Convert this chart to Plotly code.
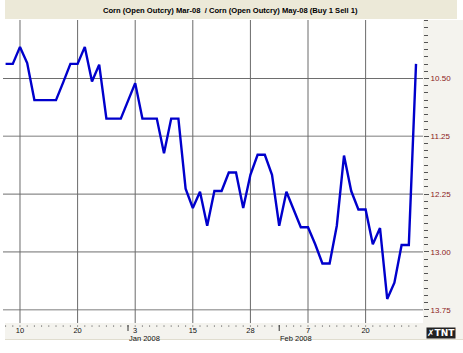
import plotly.graph_objects as go
import pandas as pd

# ---- data ----
holidays = ["2007-12-25", "2008-01-01", "2008-01-21", "2008-02-18"]
dates = [d.strftime("%Y-%m-%d") for d in
         pd.bdate_range("2007-12-06", "2008-02-29", freq="C", holidays=holidays)]

spread = [10.31, 10.31, 10.09, 10.30, 10.78, 10.78, 10.78, 10.78, 10.55, 10.31,
          10.31, 10.09, 10.54, 10.32, 11.02, 11.02, 11.02, 10.79, 10.56, 11.02,
          11.02, 11.02, 11.47, 11.02, 11.02, 11.93, 12.18, 11.97, 12.41, 11.96,
          11.96, 11.72, 11.72, 12.18, 11.75, 11.49, 11.49, 11.75, 12.41, 11.97,
          12.20, 12.43, 12.43, 12.65, 12.90, 12.90, 12.41, 11.50, 11.96, 12.20,
          12.20, 12.65, 12.44, 13.36, 13.15, 12.66, 12.66, 10.31]

x_tick_dates = ["2007-12-10", "2007-12-20", "2008-01-03", "2008-01-15",
                "2008-01-28", "2008-02-07", "2008-02-20"]
x_tick_text = ["10", "20", "3", "15", "28", "7", "20"]
month_starts = ["2008-01-02", "2008-02-01"]
month_labels = ["Jan 2008", "Feb 2008"]

y_tick_vals = [10.50, 11.25, 12.00, 12.75, 13.50]
y_tick_text = ["10.50", "11.25", "12.25", "13.00", "13.75"]
y_grid_light = [False, True, False, False, True]

title_text = "Corn (Open Outcry) Mar-08  / Corn (Open Outcry) May-08 (Buy 1 Sell 1)"

# trading-day positions on the axis
pos = list(range(len(dates)))
x_tick_pos = [dates.index(d) for d in x_tick_dates]

# ---- figure ----
W, H = 463, 353
L, R, T, B = 3, 40, 20, 30
pw, ph = W - L - R, H - T - B

def px(x):
    return (x - L) / pw

def py(y):
    return (H - B - y) / ph

fig = go.Figure()
fig.add_trace(go.Scatter(x=pos, y=spread, mode="lines", customdata=dates,
                         line=dict(color="#0000CC", width=2.4),
                         hovertemplate="%{customdata}: %{y}<extra></extra>",
                         showlegend=False))

shapes = []
# title bar
shapes.append(dict(type="rect", xref="paper", yref="paper",
                   x0=px(5), x1=px(457), y0=py(19), y1=py(0),
                   fillcolor="#ECE9D8", line=dict(width=0), layer="below"))
# right axis area
shapes.append(dict(type="rect", xref="paper", yref="paper",
                   x0=px(423), x1=px(463), y0=py(323), y1=py(20),
                   fillcolor="#F4F3EE", line=dict(width=0), layer="below"))
# bottom axis area
shapes.append(dict(type="rect", xref="paper", yref="paper",
                   x0=px(5), x1=px(463), y0=py(339), y1=py(323),
                   fillcolor="#F4F3EE", line=dict(width=0), layer="below"))
shapes.append(dict(type="line", xref="paper", yref="paper",
                   x0=px(5), x1=px(463), y0=py(339.5), y1=py(339.5),
                   line=dict(color="#E0DDCF", width=1)))
# horizontal grid lines
for v, light in zip(y_tick_vals, y_grid_light):
    shapes.append(dict(type="line", xref="paper", yref="y",
                       x0=0, x1=1, y0=v, y1=v, layer="below",
                       line=dict(color="#A8A8A8" if light else "#6E6E6E",
                                 width=1.6 if light else 1)))
# vertical grid lines at labelled days
for p in x_tick_pos:
    shapes.append(dict(type="line", xref="x", yref="paper",
                       x0=p, x1=p, y0=0, y1=1, layer="below",
                       line=dict(color="#6A6A6A", width=1)))
# daily ticks on the time axis
for p in pos:
    shapes.append(dict(type="line", xref="x", yref="paper",
                       x0=p, x1=p, y0=py(325.5), y1=py(326.6),
                       line=dict(color="#555555", width=1)))
# month boundary ticks
for m in month_starts:
    idx = dates.index(m)
    shapes.append(dict(type="line", xref="x", yref="paper",
                       x0=idx, x1=idx, y0=py(331), y1=py(325),
                       line=dict(color="#333333", width=1)))

annotations = [dict(text=title_text, xref="paper", yref="paper",
                    x=px(231), y=py(10), showarrow=False,
                    font=dict(family="Liberation Sans", size=7.6,
                              color="#000000", weight="bold"),
                    xanchor="center", yanchor="middle")]
for m, lab in zip(month_starts, month_labels):
    annotations.append(dict(text=lab, xref="x", yref="paper",
                            x=dates.index(m), y=py(338.5), showarrow=False,
                            xanchor="left", yanchor="middle", xshift=-1,
                            font=dict(family="Liberation Sans", size=7.5,
                                      color="#111111")))
# logo
annotations.append(dict(text="<b>✗TNT</b>", xref="paper", yref="paper",
                        x=px(441), y=py(333), showarrow=False,
                        xanchor="center", yanchor="middle",
                        bgcolor="#222222", borderpad=0,
                        font=dict(family="DejaVu Sans", size=9, color="#FFFFFF")))

fig.update_layout(
    width=W, height=H,
    margin=dict(l=L, r=R, t=T, b=B, pad=0),
    paper_bgcolor="white", plot_bgcolor="rgba(0,0,0,0)",
    shapes=shapes, annotations=annotations,
    xaxis=dict(range=[-0.36, 57.97],
               tickmode="array", tickvals=x_tick_pos, ticktext=x_tick_text,
               showgrid=False, ticks="", showline=False, zeroline=False,
               tickfont=dict(family="Liberation Sans", size=7.5, color="#111111"),
               ticklabelstandoff=1),
    yaxis=dict(side="right", autorange=False, range=[13.672, 9.741],
               tickmode="array", tickvals=y_tick_vals, ticktext=y_tick_text,
               showgrid=False,
               ticks="outside", ticklen=5, tickcolor="#555555",
               showline=False, zeroline=False,
               tickfont=dict(family="Liberation Sans", size=8, color="#8B1A1A"),
               minor=dict(ticks="outside", ticklen=4, tickcolor="#555555",
                          tickmode="linear", tick0=10.5, dtick=0.09375,
                          showgrid=False)),
)

fig.write_html("out.html")
